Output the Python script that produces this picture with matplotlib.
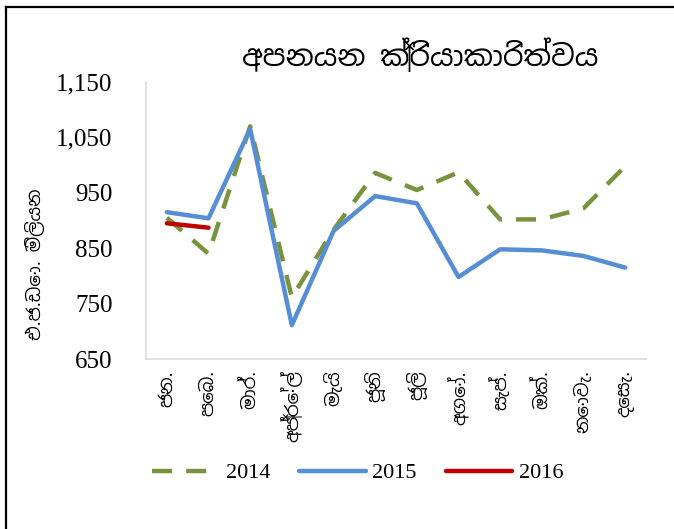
import matplotlib
matplotlib.use("Agg")
import matplotlib.pyplot as plt
from matplotlib.ticker import FuncFormatter
from matplotlib.lines import Line2D

# data (US$ million)
months = ["ජන.", "පෙබ.", "මාර්.", "අප්‍රේල්", "මැයි", "ජූනි",
          "ජූලි", "අගෝ.", "සැප්.", "ඔක්.", "නොවැ.", "දෙසැ."]
exports_2014 = [905, 840, 1070, 761, 883, 986, 955, 987, 902, 902, 922, 998]
exports_2015 = [915, 904, 1065, 711, 881, 944, 931, 798, 848, 846, 836, 815]
exports_2016 = [895, 887]
yticks = [650, 750, 850, 950, 1050, 1150]

title = "අපනයන ක්‍රියාකාරිත්වය"
ylabel = "එ.ජ.ඩො. මිලියන"

sinhala_fonts = ["Noto Sans Sinhala", "Iskoola Pota", "Noto Sans", "DejaVu Sans"]
serif = ["Liberation Serif", "DejaVu Serif"]

green = "#77933C"
blue = "#558ED5"
red = "#C00000"

fig = plt.figure(figsize=(6.74, 5.29), dpi=100)
ax = fig.add_axes([146 / 674, 1 - 359 / 529, 500 / 674, 277 / 529])

x = list(range(len(months)))
ax.plot(x, exports_2014, color=green, lw=3.2, dashes=(4.5, 3.2),
        dash_capstyle="butt", label="2014")
ax.plot(x, exports_2015, color=blue, lw=3.2, solid_capstyle="round",
        label="2015")
ax.plot(x[:len(exports_2016)], exports_2016, color=red, lw=3.2,
        solid_capstyle="round", label="2016")

ax.set_xlim(-0.5, len(months) - 0.5)
ax.set_ylim(650, 1150)
ax.set_yticks(yticks)
ax.yaxis.set_major_formatter(FuncFormatter(lambda v, p: f"{v:,.0f}"))
ax.set_xticks(x)
ax.set_xticklabels(months, rotation=90, family=sinhala_fonts, fontsize=13,
                   va="top", ha="center")
for lab in ax.get_yticklabels():
    lab.set_family(serif)
    lab.set_fontsize(18)
ax.tick_params(length=0)
ax.tick_params(axis="y", pad=24)
ax.tick_params(axis="x", pad=8)

for side in ["top", "right"]:
    ax.spines[side].set_visible(False)
for side in ["left", "bottom"]:
    ax.spines[side].set_color("#D9D9D9")
    ax.spines[side].set_linewidth(1.2)

fig.text(420 / 674, 1 - 56 / 529, title, family=sinhala_fonts,
         fontsize=21, fontweight="bold", ha="center", va="center")
fig.text(35 / 674, 1 - 264 / 529, ylabel, family=sinhala_fonts,
         fontsize=13, rotation=90, ha="center", va="center")

handles = [
    Line2D([], [], color=green, lw=3.2, dashes=(4.5, 3.2), dash_capstyle="butt"),
    Line2D([], [], color=blue, lw=3.2, solid_capstyle="round"),
    Line2D([], [], color=red, lw=3.2, solid_capstyle="round"),
]
fig.legend(handles, ["2014", "2015", "2016"], loc="center",
           bbox_to_anchor=(358 / 674, 1 - 473 / 529), ncols=3, frameon=False,
           prop={"family": serif, "size": 16}, handlelength=3.0,
           handletextpad=0.3, columnspacing=1.3)

# outer frame (top and left edges)
fig.add_artist(Line2D([6 / 674, 1], [1 - 7 / 529, 1 - 7 / 529],
                      transform=fig.transFigure, color="black", lw=1.6))
fig.add_artist(Line2D([6 / 674, 6 / 674], [0, 1 - 7 / 529],
                      transform=fig.transFigure, color="black", lw=1.6))

fig.savefig("out.png", dpi=100)
plt.close(fig)
